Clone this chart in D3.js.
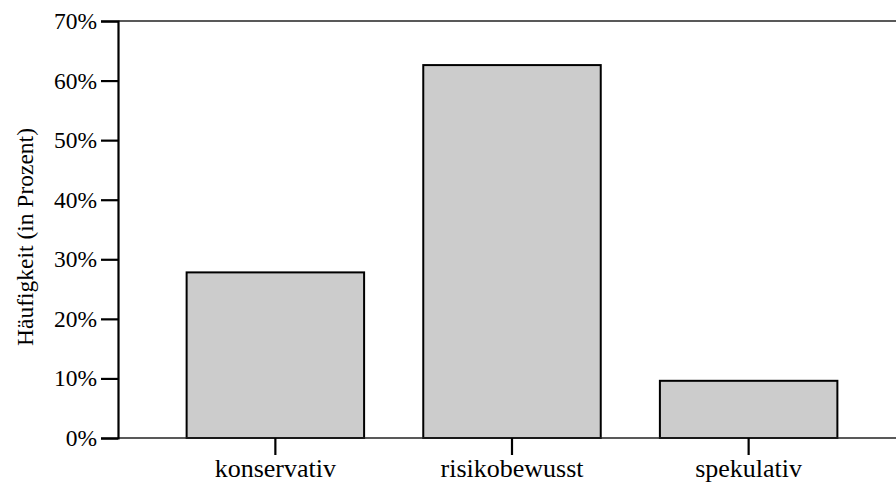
<!DOCTYPE html>
<html>
<head>
<meta charset="utf-8">
<script src="https://cdn.jsdelivr.net/npm/d3@7"></script>
<style>
body { margin: 0; background: #fff; }
text { font-family: "Liberation Serif", "DejaVu Serif", serif; fill: #000; }
</style>
</head>
<body>
<script>
//chart data
var categories = ["konservativ", "risikobewusst", "spekulativ"];
var shares = [27.8, 62.6, 9.6]; //percent
var yTicks = [0, 10, 20, 30, 40, 50, 60, 70];

var width = 896,
    height = 482;

var svg = d3.select("body")
    .append("svg")
    .attr("width", width)
    .attr("height", height);

//plot edges (window.top is reserved, so plot* names)
var plotLeft = 118, plotTop = 21, plotBottom = 438;

var x = d3.scaleBand()
    .domain(categories)
    .range([plotLeft, 906])
    .paddingInner(0.25)
    .paddingOuter(0.29);

var y = d3.scaleLinear()
    .domain([0, 70])
    .range([plotBottom, plotTop]);

//frame line at top
svg.append("line")
    .attr("x1", plotLeft).attr("x2", width)
    .attr("y1", y(70)).attr("y2", y(70))
    .attr("stroke", "#222").attr("stroke-width", 1.5);

//bars
svg.selectAll(".bar")
    .data(shares)
    .enter()
    .append("rect")
    .attr("class", "bar")
    .attr("x", function(d, i){ return x(categories[i]); })
    .attr("y", function(d){ return y(d); })
    .attr("width", x.bandwidth())
    .attr("height", function(d){ return y(0) - y(d); })
    .attr("fill", "#cccccc")
    .attr("stroke", "#000")
    .attr("stroke-width", 2);

//baseline
svg.append("line")
    .attr("x1", plotLeft).attr("x2", width)
    .attr("y1", y(0)).attr("y2", y(0))
    .attr("stroke", "#222").attr("stroke-width", 1.5);

//y axis
var yAxis = d3.axisLeft(y)
    .tickValues(yTicks)
    .tickFormat(function(d){ return d + "%"; })
    .tickSize(17)
    .tickPadding(4);

var gy = svg.append("g")
    .attr("transform", "translate(" + plotLeft + ",0)")
    .call(yAxis);
gy.select(".domain").attr("stroke", "#000").attr("stroke-width", 2.2);
gy.selectAll(".tick line").attr("stroke", "#000").attr("stroke-width", 2.2);
gy.selectAll(".tick text")
    .style("font-family", "Liberation Serif")
    .style("font-size", "23.5px")
    .attr("fill", "#000");

//x axis
var xAxis = d3.axisBottom(x)
    .tickSize(17)
    .tickPadding(4);

var gx = svg.append("g")
    .attr("transform", "translate(0," + plotBottom + ")")
    .call(xAxis);
gx.select(".domain").remove();
gx.selectAll(".tick line").attr("stroke", "#000").attr("stroke-width", 2.2);
gx.selectAll(".tick text")
    .style("font-family", "Liberation Serif")
    .style("font-size", "26px")
    .attr("fill", "#000");

//y axis title
svg.append("text")
    .attr("transform", "translate(33,237) rotate(-90)")
    .attr("text-anchor", "middle")
    .style("font-size", "23.5px")
    .text("Häufigkeit (in Prozent)");
</script>
</body>
</html>
